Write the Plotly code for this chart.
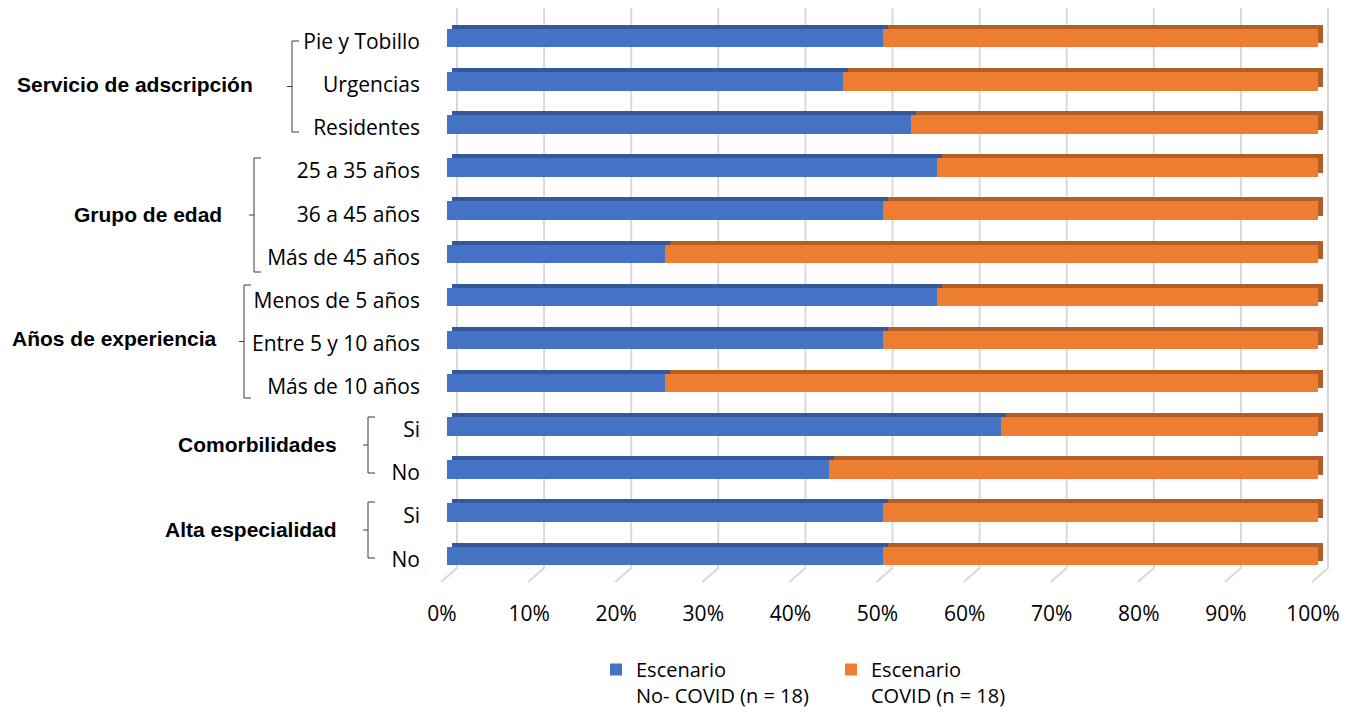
import plotly.graph_objects as go

# ---- data -------------------------------------------------------------
categories = [
    "Pie y Tobillo", "Urgencias", "Residentes",
    "25 a 35 años", "36 a 45 años", "Más de 45 años",
    "Menos de 5 años", "Entre 5 y 10 años", "Más de 10 años",
    "Si", "No",
    "Si", "No",
]
no_covid = [50.0, 45.5, 53.3, 56.3, 50.0, 25.0, 56.3, 50.0, 25.0, 63.6, 43.8, 50.0, 50.0]
covid = [50.0, 54.5, 46.7, 43.7, 50.0, 75.0, 43.7, 50.0, 75.0, 36.4, 56.2, 50.0, 50.0]

groups = ["Servicio de adscripción", "Grupo de edad", "Años de experiencia",
          "Comorbilidades", "Alta especialidad"]

series_names = ["Escenario<br>No- COVID (n = 18)", "Escenario<br>COVID (n = 18)"]
x_ticks = [0, 10, 20, 30, 40, 50, 60, 70, 80, 90, 100]

# ---- styling ------------------------------------------------------------
W, H = 1353, 713
FRONT = ["#4472C4", "#ED7D31"]
TOP = ["#34589A", "#B35E26"]
GRID = "#D9D9D9"
TEXT_FONT = "Open Sans"

X_LEFT, X_RIGHT = 447, 1318          # front face of the bars (0% .. 100%)
PLOT_L, PLOT_R = 430, 1345           # drawing area, a bit wider than the bars
PLOT_T, PLOT_B = 4, 590
ROW0, ROW = 41.7, 43.13              # first row centre and row pitch (px)
PX_PER_PCT = (X_RIGHT - X_LEFT) / 100.0
DEPTH_X, DEPTH_Y = 5, 4              # depth of the top/side faces (px)
FACE = 18.5                          # thickness of the front face (px)
LIFT = 3.5                           # bars sit slightly above the label centre


def px_x(p):
    return p / W


def px_y(p):
    return 1 - p / H


pos = list(range(len(categories)))

# axis ranges that put 0..100 % on X_LEFT..X_RIGHT inside the wider area
x_lo = -(X_LEFT - PLOT_L) / PX_PER_PCT
x_hi = (PLOT_R - X_LEFT) / PX_PER_PCT
y_lo = (PLOT_T - ROW0) / ROW
y_hi = (PLOT_B - ROW0) / ROW

face_w = FACE / ROW
face_off = -(LIFT + FACE / 2) / ROW
back_off = face_off - DEPTH_Y / ROW
shift = DEPTH_X / PX_PER_PCT

fig = go.Figure()

# shaded top / side faces: the same bars drawn on a slightly shifted scale
for vals, col in zip([no_covid, covid], TOP):
    fig.add_trace(go.Bar(
        y=pos, x=vals, orientation="h", xaxis="x", yaxis="y",
        width=face_w, offset=back_off, marker=dict(color=col, line=dict(width=0)),
        showlegend=False, hoverinfo="skip",
    ))

# front faces
for vals, col, name in zip([no_covid, covid], FRONT, series_names):
    fig.add_trace(go.Bar(
        y=pos, x=vals, orientation="h", xaxis="x2", yaxis="y",
        width=face_w, offset=face_off, name=name,
        marker=dict(color=col, line=dict(width=0)),
    ))

shapes = []
# back-wall gridlines with a short floor segment at the bottom
grid_bottom = px_y(568)
for t in x_ticks:
    shapes.append(dict(
        type="path", layer="below", xref="x2", yref="paper",
        xsizemode="pixel", ysizemode="pixel", xanchor=t, yanchor=grid_bottom,
        path="M 10,560 L 10,0 L -6,-14",
        line=dict(color=GRID, width=2),
    ))

# group brackets: (x, top, bottom, label right edge, label centre) in px
brackets = [
    (292, 41, 132, 255, 84),
    (254, 158, 272, 224, 215),
    (244, 285, 398, 219, 338),
    (368, 417, 473, 339, 444),
    (368, 502, 558, 339, 529),
]
annotations = []
for g, (bx, bt, bb, lr, ly) in zip(groups, brackets):
    mid = (bt + bb) / 2
    path = (f"M {px_x(bx + 7)},{px_y(bt)} L {px_x(bx)},{px_y(bt)} "
            f"L {px_x(bx)},{px_y(bb)} L {px_x(bx + 7)},{px_y(bb)} "
            f"M {px_x(bx - 5)},{px_y(mid)} L {px_x(bx)},{px_y(mid)}")
    shapes.append(dict(type="path", xref="paper", yref="paper", path=path,
                       line=dict(color="#3A3A3A", width=1)))
    annotations.append(dict(
        text=f"<b>{g}</b>", xref="paper", yref="paper",
        x=px_x(lr), y=px_y(ly), xanchor="right", yanchor="middle",
        showarrow=False, font=dict(family="Liberation Sans, Arial", size=21, color="#000000"),
    ))

fig.update_layout(
    width=W, height=H,
    margin=dict(l=0, r=0, t=0, b=0, autoexpand=False),
    paper_bgcolor="white", plot_bgcolor="rgba(0,0,0,0)",
    barmode="stack", bargap=0,
    font=dict(family=TEXT_FONT, size=21, color="#000000"),
    xaxis=dict(
        domain=[px_x(PLOT_L), px_x(PLOT_R)],
        range=[x_lo - shift, x_hi - shift],
        showgrid=False, zeroline=False, showticklabels=False, showline=False,
        anchor="y", automargin=False,
    ),
    xaxis2=dict(
        overlaying="x", anchor="y", side="bottom", automargin=False,
        range=[x_lo, x_hi], tickvals=x_ticks, ticktext=[f"{t}%" for t in x_ticks],
        showgrid=False, zeroline=False, showline=False, ticks="",
        ticklabelshift=-5, ticklabelstandoff=9,
        tickfont=dict(family=TEXT_FONT, size=21, color="#000000"),
    ),
    yaxis=dict(
        domain=[px_y(PLOT_B), px_y(PLOT_T)],
        range=[y_hi, y_lo],
        tickvals=pos, ticktext=categories, automargin=False,
        showgrid=False, zeroline=False, showline=False, ticks="",
        ticklabelstandoff=9,
        tickfont=dict(family=TEXT_FONT, size=21, color="#000000"),
        anchor="x",
    ),
    legend=dict(
        orientation="h", x=px_x(596), xanchor="left", y=px_y(650), yanchor="top",
        valign="top", itemwidth=30, traceorder="normal",
        font=dict(family=TEXT_FONT, size=20, color="#000000"),
        entrywidth=190, entrywidthmode="pixels",
    ),
    shapes=shapes,
    annotations=annotations,
    showlegend=True,
)

fig.write_html("out.html")
